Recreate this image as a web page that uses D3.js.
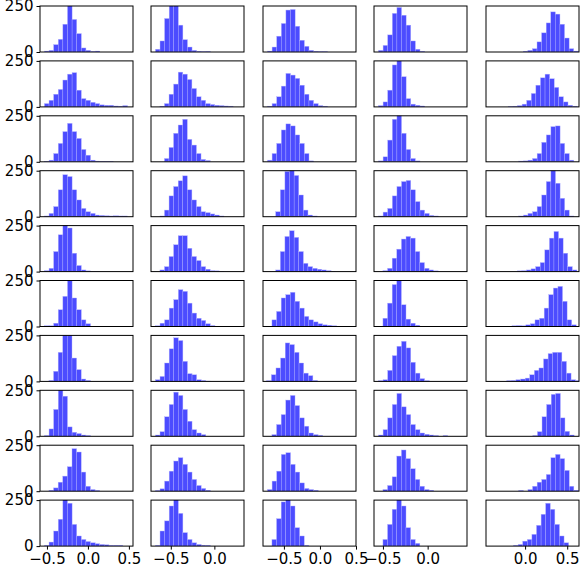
<!DOCTYPE html>
<html>
<head>
<meta charset="utf-8">
<script src="https://cdn.jsdelivr.net/npm/d3@7"></script>
<style>
  body { margin: 0; background: #fff; }
  text { font-family: "DejaVu Sans", sans-serif; }
</style>
</head>
<body>
<div id="chart"></div>
<script>
// x range of each column (shared down the column)
var colDomains = [[-0.585, 0.55], [-0.727, 0.34], [-0.79, 0.5], [-0.6, 0.44], [-0.464, 0.64]];
var colBinWidths = [0.0563, 0.0525, 0.064, 0.0516, 0.0545];
var colTicks = [[-0.5, 0.0, 0.5], [-0.5, 0.0], [-0.5, 0.0, 0.5], [-0.5, 0.0], [0.0, 0.5]];
var yTicks = [0, 250];

// first bin edge of each panel, row by row
var starts = [
  [-0.531, -0.676, -0.728, -0.55, -0.022],
  [-0.531, -0.625, -0.728, -0.55, -0.199],
  [-0.531, -0.573, -0.728, -0.55, -0.075],
  [-0.531, -0.625, -0.614, -0.55, -0.075],
  [-0.531, -0.625, -0.614, -0.5, -0.42],
  [-0.531, -0.676, -0.666, -0.5, -0.155],
  [-0.476, -0.676, -0.738, -0.55, -0.217],
  [-0.531, -0.676, -0.666, -0.55, 0.092],
  [-0.476, -0.676, -0.728, -0.5, -0.075],
  [-0.531, -0.676, -0.666, -0.5, -0.137]
];

// bin counts of each panel
var counts = [
  [[5,9,40,69,151,260,177,100,22,9,3,5],
   [15,60,182,260,260,146,67,27,9,4,2,3],
   [5,27,86,155,228,231,140,64,31,9,4,2,2],
   [9,36,93,210,242,200,146,60,15,4],
   [4,9,18,55,104,158,218,206,151,76,18,5]],
  [[18,36,69,95,146,178,186,91,45,36,25,18,11,9,9,5,4,7],
   [4,18,69,124,189,178,149,100,55,36,18,13,9,7,5,4],
   [4,18,55,113,182,173,155,118,69,36,18,7,4],
   [7,27,91,228,260,164,45,15,9,5],
   [2,4,7,15,36,73,118,158,178,153,106,55,27,9,4]],
  [[2,9,45,100,164,209,164,127,67,36,9,4,2,1,1],
   [18,78,155,200,231,122,91,45,13,7],
   [9,45,100,173,206,195,146,100,45,5],
   [5,27,118,231,260,155,67,18,5],
   [4,5,9,18,45,106,146,191,195,100,45,9]],
  [[4,18,55,146,228,218,146,91,45,27,18,9,7,5,4,5,4,4],
   [4,36,113,164,195,222,146,91,55,27,22,15,9,4],
   [27,146,246,260,224,118,36,9,4],
   [4,25,45,113,164,191,197,146,82,36,18,7,4],
   [4,9,18,27,55,118,191,260,182,100,36,4]],
  [[5,18,109,200,260,237,100,33,9,4,2,2],
   [9,27,82,146,195,195,127,82,60,27,13,5,4,2],
   [9,109,191,222,186,109,45,27,18,13,9,5,2],
   [5,18,73,122,177,191,182,109,49,18,9,4],
   [2,0,0,0,0,0,4,5,9,15,27,49,118,182,218,182,100,27,9]],
  [[4,4,18,91,164,260,155,91,36,15],
   [4,18,36,100,146,200,191,127,73,45,33,15,5],
   [36,82,155,173,186,137,100,55,36,25,15,9,7,4],
   [45,127,228,260,118,40,18,7],
   [4,5,4,9,15,36,45,100,173,209,218,137,36,9]],
  [[5,55,158,260,260,127,64,13,5],
   [9,27,100,177,237,222,109,42,36,9,5,2],
   [4,36,73,127,209,200,158,100,45,31,5],
   [4,9,60,140,191,218,182,104,45,15,4],
   [4,5,9,13,18,36,60,73,122,151,158,158,109,45,9,4]],
  [[4,40,146,260,218,51,22,15,7,4],
   [7,25,106,173,240,222,146,82,36,18,9],
   [9,64,118,197,222,167,100,55,18,9,5],
   [7,36,100,173,233,160,118,64,36,18,11,7,4,0,4],
   [4,25,106,173,228,233,100,27,7]],
  [[5,18,49,82,133,231,213,104,27,9,4],
   [4,13,55,109,164,182,146,104,64,31,15,5],
   [9,55,109,200,209,146,104,45,15,9,5],
   [9,31,78,191,224,177,122,64,27,9,5],
   [4,0,9,27,49,64,91,182,200,177,113,27,5]],
  [[4,22,82,146,260,233,118,55,36,25,18,13,9,7,4,4,4],
   [4,82,137,218,260,178,73,36,18,9,5,4],
   [36,149,240,260,218,100,55,4],
   [36,118,200,260,218,100,36,15],
   [4,9,27,36,64,113,173,233,200,118,55,18]]
];

var W = 582, H = 570;
var colLeft = [40, 151, 263, 374, 486];
var panelW = 93, panelH = 46, rowTop = 6, rowStep = 54.9;

var svg = d3.select("#chart").append("svg")
  .attr("width", W)
  .attr("height", H);

var y = d3.scaleLinear().domain([0, 250]).range([panelH, 0]);

counts.forEach(function (row, r) {
  row.forEach(function (vals, c) {
    var x = d3.scaleLinear().domain(colDomains[c]).range([0, panelW]);
    var bw = colBinWidths[c];
    var g = svg.append("g")
      .attr("transform", `translate(${colLeft[c]}, ${rowTop + r * rowStep})`);

    var clipId = "clip-" + r + "-" + c;
    g.append("clipPath").attr("id", clipId)
      .append("rect").attr("width", panelW).attr("height", panelH);

    var bins = vals.map(function (v, i) {
      return { x0: starts[r][c] + i * bw, x1: starts[r][c] + (i + 1) * bw, n: v };
    });

    g.append("g")
      .attr("clip-path", `url(#${clipId})`)
      .selectAll("rect")
      .data(bins)
      .enter()
      .append("rect")
      .attr("x", d => x(d.x0))
      .attr("width", d => x(d.x1) - x(d.x0))
      .attr("y", d => y(d.n))
      .attr("height", d => panelH - y(d.n))
      .attr("fill", "rgb(0,0,255)")
      .attr("fill-opacity", 0.7)
      .attr("stroke", "#b3b3ff")
      .attr("stroke-width", 0.4);

    g.append("rect")
      .attr("width", panelW)
      .attr("height", panelH)
      .attr("fill", "none")
      .attr("stroke", "#000")
      .attr("stroke-width", 1);

    // y axis only on the first column
    if (c === 0) {
      var ya = g.append("g")
        .call(d3.axisLeft(y).tickValues(yTicks).tickFormat(d3.format("d")).tickSize(3.5).tickPadding(3));
      ya.select(".domain").remove();
      ya.selectAll("text").style("font-size", "15px").attr("fill", "#000");
    }

    // x axis only on the bottom row
    if (r === counts.length - 1) {
      var xa = g.append("g")
        .attr("transform", `translate(0, ${panelH})`)
        .call(d3.axisBottom(x).tickValues(colTicks[c]).tickFormat(d3.format(".1f")).tickSize(3.5).tickPadding(4));
      xa.select(".domain").remove();
      xa.selectAll("text").style("font-size", "15px").attr("fill", "#000");
    }
  });
});
</script>
</body>
</html>
